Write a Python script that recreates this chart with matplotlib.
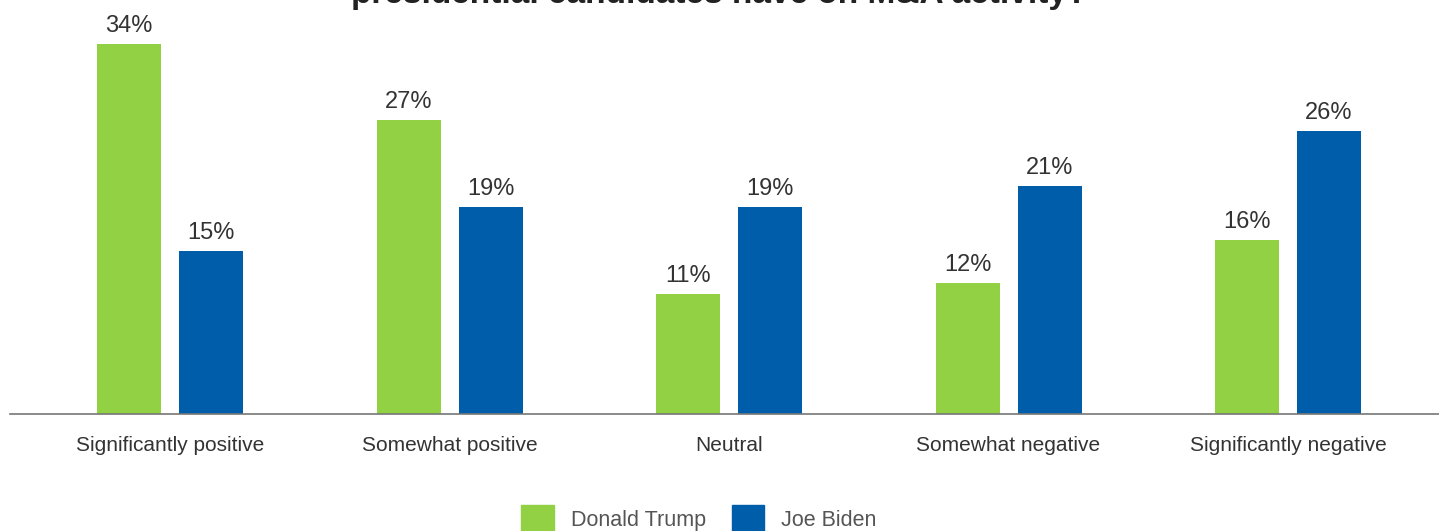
import matplotlib
matplotlib.use("Agg")
import matplotlib.pyplot as plt
import numpy as np
from matplotlib.patches import Patch

categories = ["Significantly positive", "Somewhat positive", "Neutral",
              "Somewhat negative", "Significantly negative"]
trump = [34, 27, 11, 12, 16]
biden = [15, 19, 19, 21, 26]
series_names = ["Donald Trump", "Joe Biden"]
title = "presidential candidates have on M&A activity?"

green = "#92D143"
blue = "#005DAA"

plt.rcParams['font.family'] = ['Liberation Sans', 'DejaVu Sans']

W, H = 1439, 531
fig = plt.figure(figsize=(W / 100, H / 100), dpi=100)
ax = fig.add_axes([10 / W, 117 / H, 1429 / W, 414 / H])

x = np.arange(len(categories))
bw = 64 / 279.5
off = 41 / 279.5
b1 = ax.bar(x - off, trump, bw, color=green)
b2 = ax.bar(x + off, biden, bw, color=blue)

for bars, vals in ((b1, trump), (b2, biden)):
    for b, v in zip(bars, vals):
        ax.annotate(f"{v}%", (b.get_x() + b.get_width() / 2, v),
                    xytext=(0, 5), textcoords="offset points",
                    ha="center", va="bottom", fontsize=17, color="#333333")

ax.set_xlim(-160 / 279.5, 4 + 151 / 279.5)
ax.set_ylim(0, 414 / 10.88)
for s in ("top", "right", "left"):
    ax.spines[s].set_visible(False)
ax.spines["bottom"].set_color("#777777")
ax.spines["bottom"].set_linewidth(1.2)
ax.set_yticks([])
ax.set_xticks(x)
ax.set_xticklabels(categories, fontsize=15, color="#333333")
ax.tick_params(axis="x", length=0, pad=16)

fig.text(719 / W, 1 - 3 / H, title, ha="center", va="baseline",
         fontsize=24, fontweight="bold", color="#222222")

handles = [Patch(color=green), Patch(color=blue)]
fig.legend(handles, series_names, loc="upper center",
           bbox_to_anchor=(699 / W, 1 - 505 / H), ncol=2, frameon=False,
           fontsize=15.5, handlelength=1.5, handleheight=1.6,
           handletextpad=0.8, columnspacing=1.2, labelcolor="#555555",
           borderaxespad=0, borderpad=0)

fig.savefig("out.png", dpi=100)
